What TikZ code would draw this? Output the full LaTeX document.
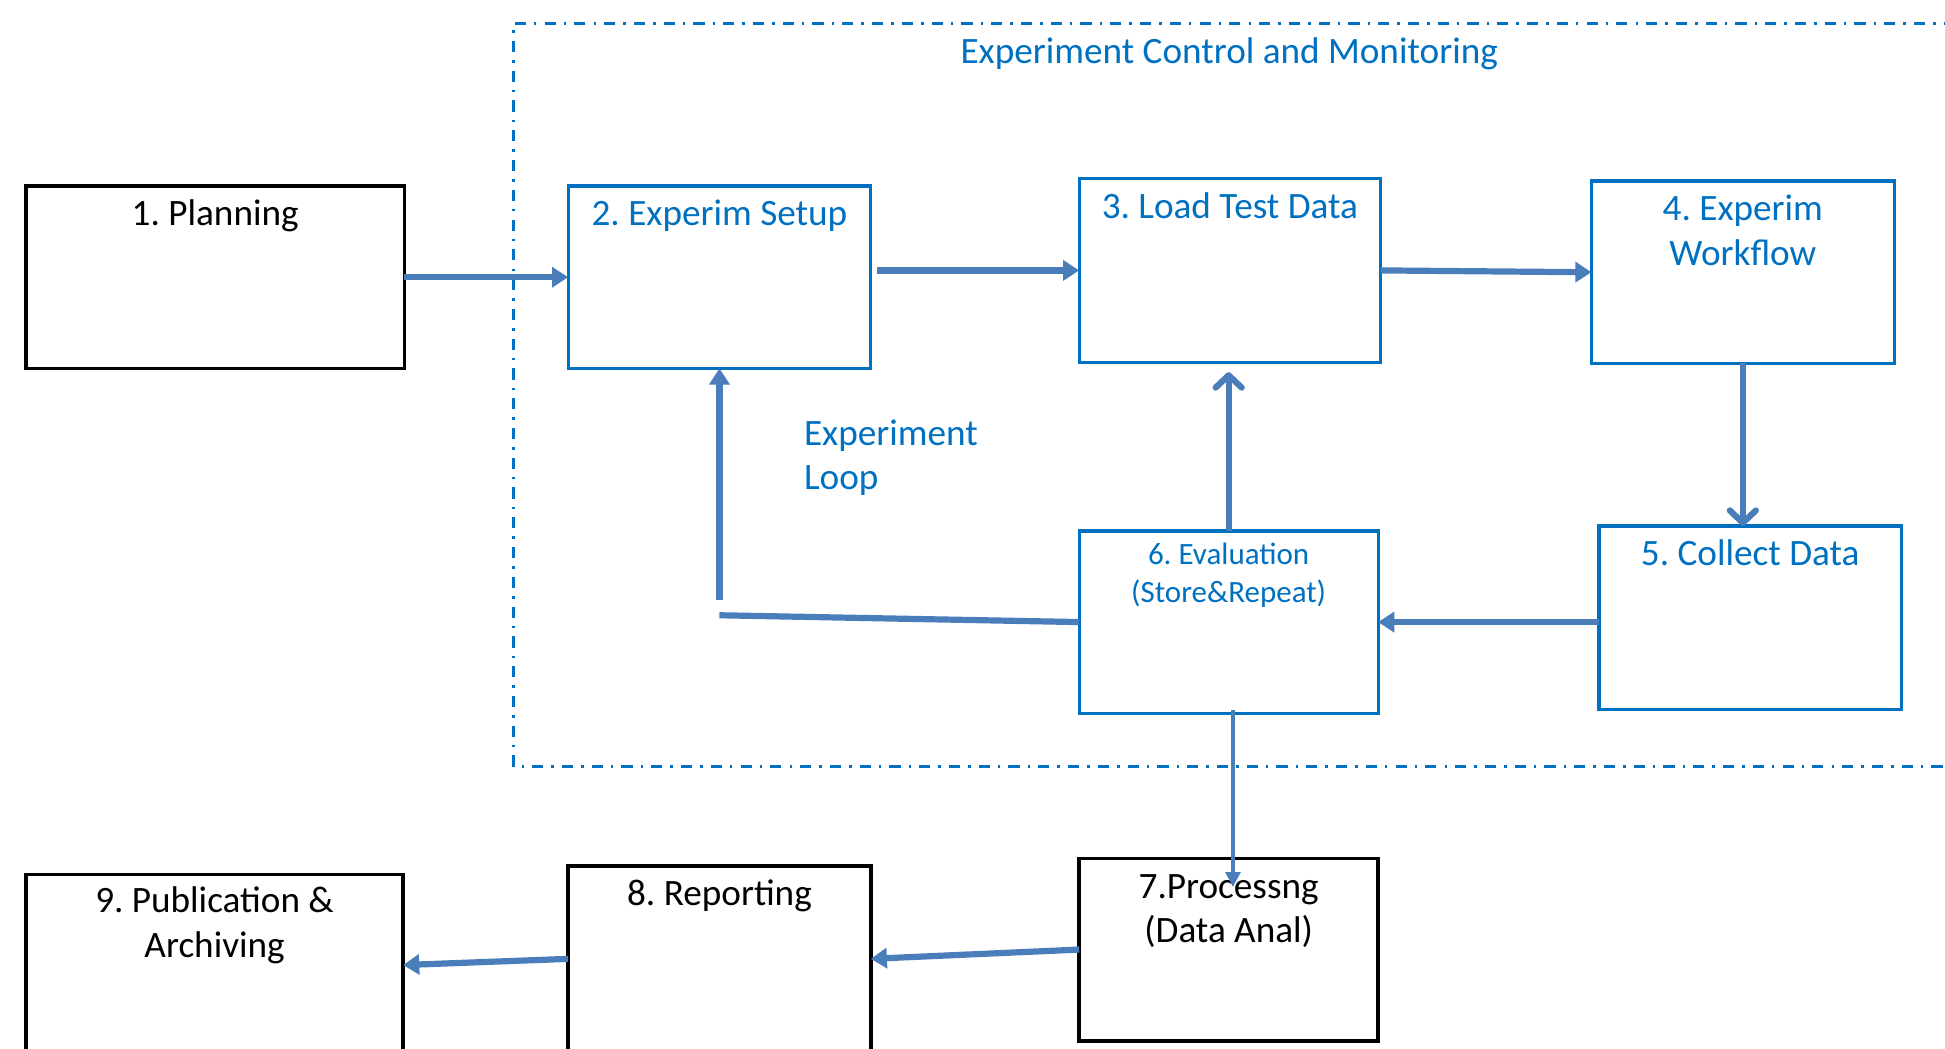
\documentclass[tikz,border=0pt]{standalone}
\usepackage{fontspec}
\setmainfont{Carlito}
\frenchspacing
\usetikzlibrary{arrows.meta,calc}
\definecolor{boxblue}{HTML}{0070C0}
\definecolor{arrblue}{HTML}{4A7EBB}
\tikzset{
  blackbox/.style={draw=black, line width=3pt, inner sep=0pt, outer sep=0pt, fill=white},
  bluebox/.style={draw=boxblue, line width=2.6pt, inner sep=0pt, outer sep=0pt, fill=white},
  btxt/.style={anchor=base, inner sep=0pt, text=black, font=\fontsize{30}{36}\selectfont},
  ltxt/.style={anchor=base, inner sep=0pt, text=boxblue, font=\fontsize{30}{36}\selectfont},
  stxt/.style={anchor=base, inner sep=0pt, text=boxblue, font=\fontsize{25}{31}\selectfont},
  farrow/.style={draw=arrblue, line width=5pt, -{Triangle[length=13pt,width=16pt]}},
  varrow/.style={draw=arrblue, line width=5pt, -{Straight Barb[length=10pt,width=21pt,round]}},
  tarrow/.style={draw=arrblue, line width=2.5pt, -{Triangle[length=12pt,width=12pt]}},
  plainline/.style={draw=arrblue, line width=5pt},
  region/.style={draw=boxblue, line width=2.2pt, dash pattern=on 9pt off 6.5pt on 2pt off 6.5pt}
}
\begin{document}
\begin{tikzpicture}[x=1pt,y=-1pt]
\path[use as bounding box, clip] (0,0) rectangle (1568,845);
\fill[white] (0,0) rectangle (1568,845);

% region
\draw[region] (1600,19) -- (414,19) -- (414,618) -- (1600,618);
\node[ltxt] (title) at (991,51) {Experiment Control and Monitoring};

% boxes
\node[blackbox, minimum width=305pt, minimum height=147pt] (b1) at (173.5,223.5) {};
\node[bluebox, minimum width=244pt, minimum height=147pt] (b2) at (580,223.5) {};
\node[bluebox, minimum width=243pt, minimum height=148pt] (b3) at (991.5,218) {};
\node[bluebox, minimum width=244pt, minimum height=147pt] (b4) at (1405,219.5) {};
\node[bluebox, minimum width=244pt, minimum height=148pt] (b5) at (1411,498) {};
\node[bluebox, minimum width=241pt, minimum height=147pt] (b6) at (990.5,501.5) {};
\node[blackbox, minimum width=241pt, minimum height=147pt] (b7) at (990.5,765.5) {};
\node[blackbox, minimum width=244pt, minimum height=150pt] (b8) at (580,773) {};
\node[blackbox, minimum width=304pt, minimum height=146pt] (b9) at (173,778) {};

% texts
\node[btxt] (t1) at (173.5,182) {1. Planning};
\node[ltxt] (t2) at (580,182) {2. Experim Setup};
\node[ltxt] (t3) at (991.5,176) {3. Load Test Data};
\node[ltxt] (t4a) at (1405,178) {4. Experim};
\node[ltxt] (t4b) at (1405,214) {Workflow};
\node[ltxt] (t5) at (1411,456) {5. Collect Data};
\node[stxt] (t6a) at (990.5,455) {6. Evaluation};
\node[stxt] (t6b) at (990.5,486) {(Store\&Repeat)};
\node[btxt] (t7a) at (990.5,724) {7.Processng};
\node[btxt] (t7b) at (990.5,760) {(Data Anal)};
\node[btxt] (t8) at (580,730) {8. Reporting};
\node[btxt] (t9a) at (173,736) {9. Publication \&};
\node[btxt] (t9b) at (173,772) {Archiving};
\node[ltxt, anchor=base west] (loop1) at (648,359) {Experiment};
\node[ltxt, anchor=base west] (loop2) at (648,395) {Loop};

% connectors
\draw[farrow] (b1.east) -- (b2.west);
\draw[farrow] ([xshift=5pt]b2.east |- b3.west) -- (b3.west);
\draw[farrow] (b3.east) -- (b4.west);
\draw[varrow] (b4.south) -- (b4.south |- b5.north);
\draw[farrow] (b5.west |- b6.east) -- (b6.east);
\draw[varrow] (b6.north) -- ([yshift=-8pt]b6.north |- b3.south);
\coordinate (lc1) at (580,496);
\coordinate (lc2) at (580,484);
\draw[plainline] (b6.west) -- (lc1);
\draw[farrow] (lc2) -- (b2.south);
\draw[tarrow] ([xshift=3.5pt,yshift=3pt]b6.south) -- ([xshift=3.5pt,yshift=-23pt]b7.north);
\draw[farrow] (b7.west) -- (b8.east);
\draw[farrow] (b8.west) -- (b9.east);
\end{tikzpicture}
\end{document}
